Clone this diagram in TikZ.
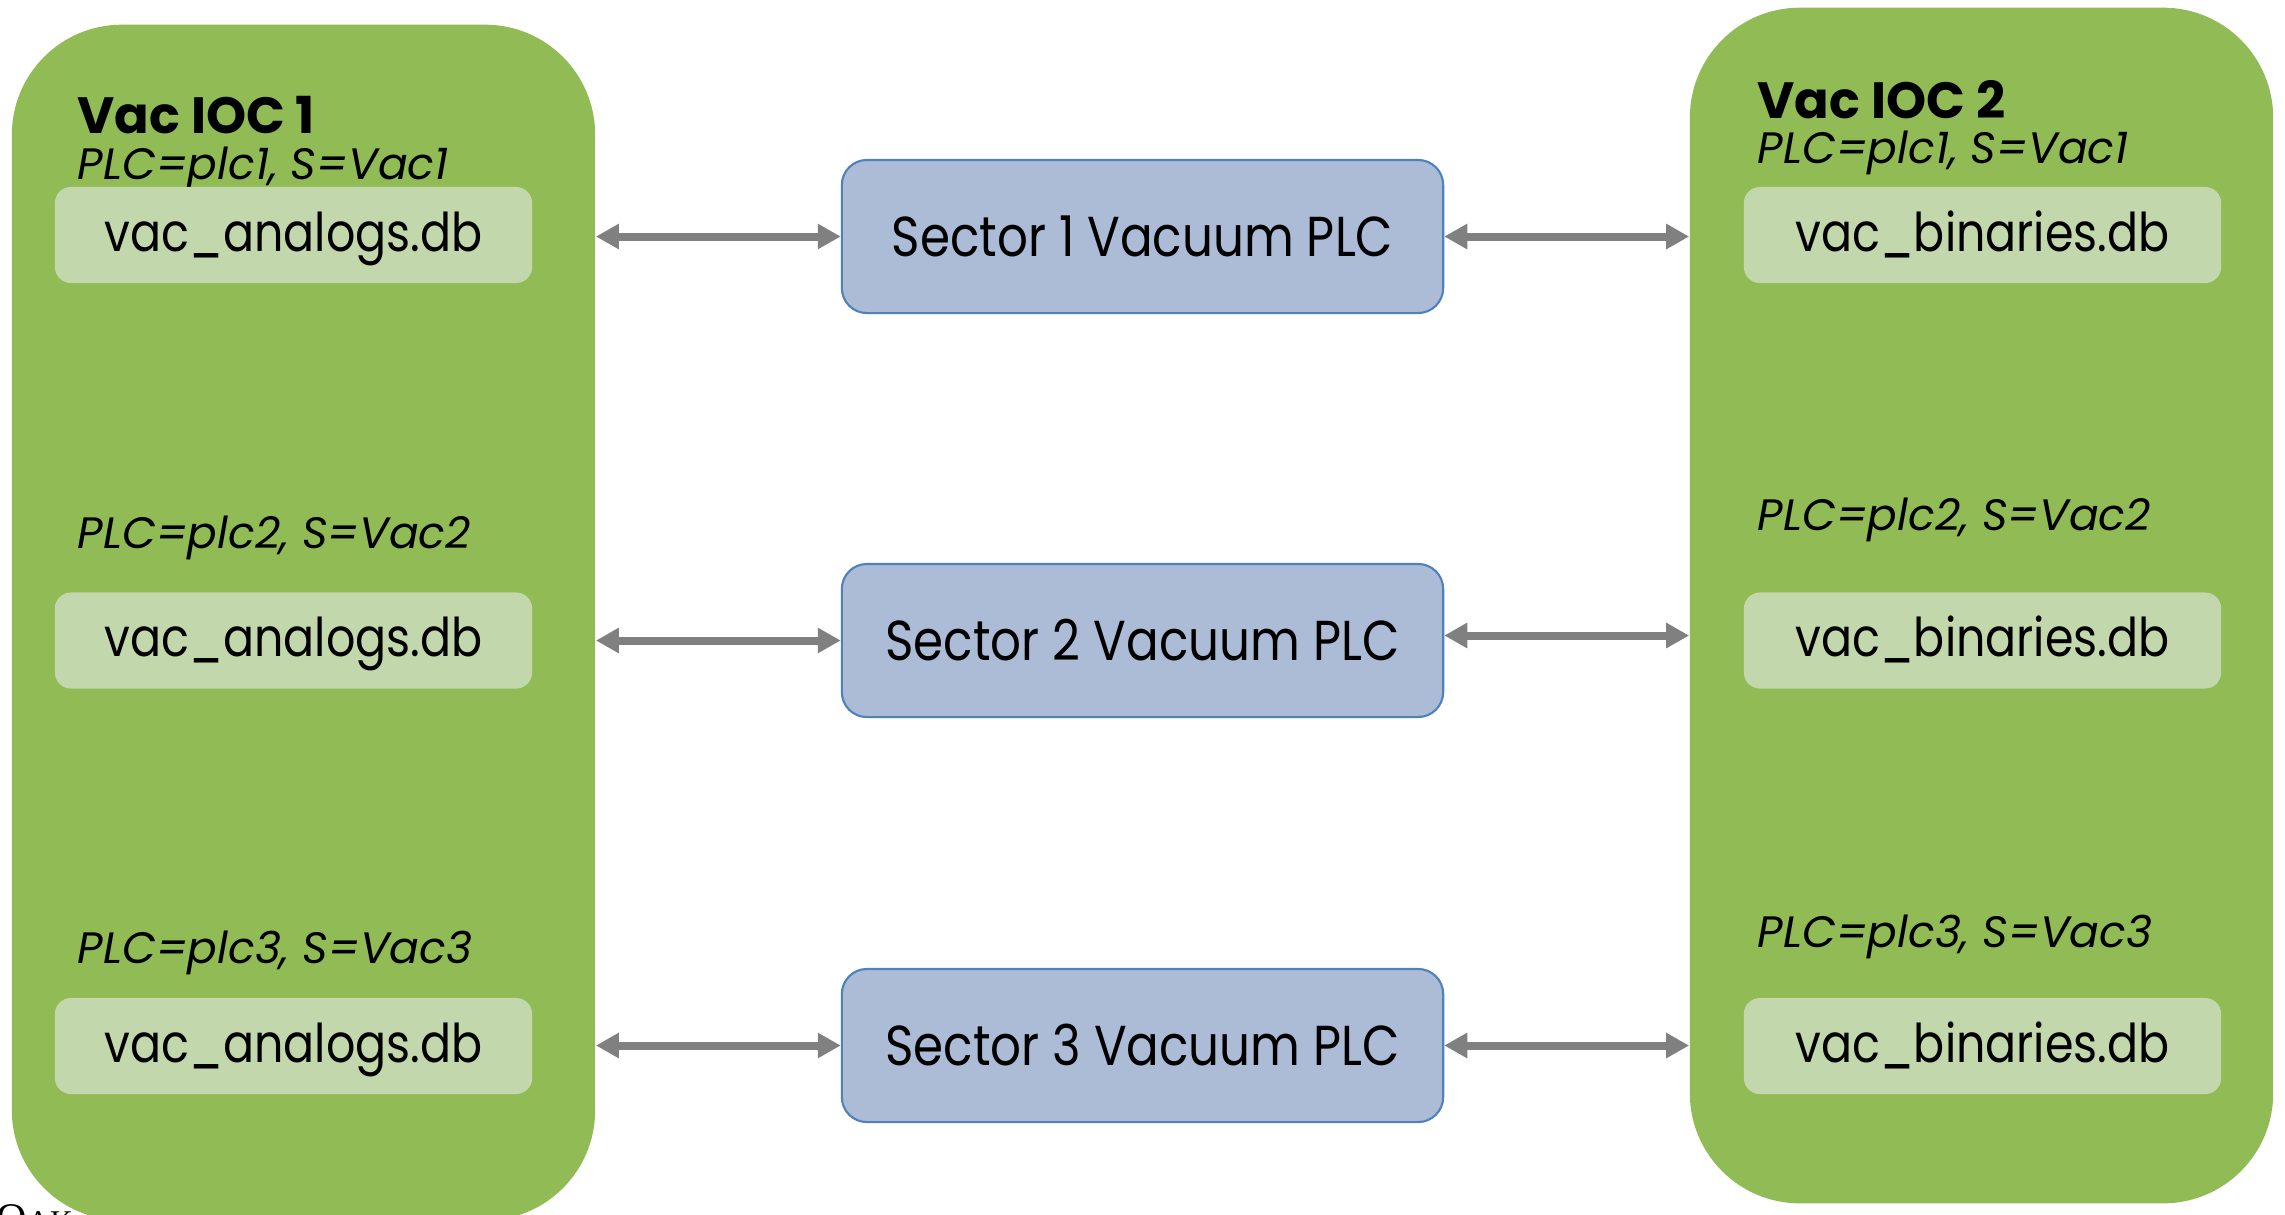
\documentclass[tikz,border=0pt]{standalone}
\usepackage{fontspec}
\setmainfont{Poppins}
\newfontfamily\boxfont[FakeStretch=0.86]{Poppins}
\newfontfamily\footerfont{Liberation Serif}
\usetikzlibrary{arrows.meta}

\definecolor{iocgreen}{RGB}{145,187,85}
\definecolor{dbgreen}{RGB}{194,216,172}
\definecolor{plcfill}{RGB}{172,187,214}
\definecolor{plcline}{RGB}{79,129,189}
\definecolor{linkgray}{RGB}{128,128,128}

\tikzset{
  iocbox/.style={rectangle, rounded corners=1.1cm, fill=iocgreen,
    minimum width=5.83cm, minimum height=11.95cm, inner sep=0pt},
  dbbox/.style={rectangle, rounded corners=0.16cm, fill=dbgreen,
    minimum width=4.77cm, minimum height=0.96cm, inner sep=0pt,
    text height=0.42cm, text depth=0.1cm,
    font=\boxfont\fontsize{15.2}{18}\selectfont},
  plcbox/.style={rectangle, rounded corners=0.25cm, fill=plcfill,
    draw=plcline, line width=0.6pt,
    minimum width=6.01cm, minimum height=1.53cm, inner sep=0pt,
    text height=0.5cm, text depth=0.1cm,
    font=\boxfont\fontsize{16}{18}\selectfont},
  title/.style={anchor=base west, inner sep=0pt, font=\bfseries\fontsize{14.5}{17}\selectfont},
  param/.style={anchor=base west, inner sep=0pt, font=\itshape\fontsize{12.5}{15}\selectfont},
  link/.style={draw=linkgray, line width=0.08cm,
    {Triangle[length=0.23cm,width=0.24cm]}-{Triangle[length=0.23cm,width=0.24cm]}}
}

\begin{document}
\begin{tikzpicture}[x=0.01cm, y=-0.01cm]
  \useasboundingbox (0,0) rectangle (2285,1214);

  % IOC containers
  \node[iocbox] (ioc1) at (303.5,622.5) {};
  \node[iocbox] (ioc2) at (1981.5,605.5) {};

  % IOC 1 contents
  \node[title] (t1) at (77,133) {Vac IOC 1};
  \node[param] (p11) at (77,179) {PLC=plc1, S=Vac1};
  \node[param] (p12) at (77,548) {PLC=plc2, S=Vac2};
  \node[param] (p13) at (77,963) {PLC=plc3, S=Vac3};
  \node[dbbox] (a1) at (293.5,235) {vac\_analogs.db};
  \node[dbbox] (a2) at (293.5,640.5) {vac\_analogs.db};
  \node[dbbox] (a3) at (293.5,1046) {vac\_analogs.db};

  % IOC 2 contents
  \node[title] (t2) at (1757,118) {Vac IOC 2};
  \node[param] (p21) at (1757,163) {PLC=plc1, S=Vac1};
  \node[param] (p22) at (1757,530) {PLC=plc2, S=Vac2};
  \node[param] (p23) at (1757,947) {PLC=plc3, S=Vac3};
  \node[dbbox] (b1) at (1982.5,235) {vac\_binaries.db};
  \node[dbbox] (b2) at (1982.5,640.5) {vac\_binaries.db};
  \node[dbbox] (b3) at (1982.5,1046) {vac\_binaries.db};

  % Sector PLCs
  \node[plcbox] (s1) at (1142.5,236.5) {Sector 1 Vacuum PLC};
  \node[plcbox] (s2) at (1142.5,640.5) {Sector 2 Vacuum PLC};
  \node[plcbox] (s3) at (1142.5,1045.5) {Sector 3 Vacuum PLC};

  % Links between IOCs and PLCs
  \draw[link] (ioc1.east |- s1.west) -- (s1.west);
  \draw[link] (s1.east) -- (ioc2.west |- s1.east);
  \draw[link] (ioc1.east |- s2.west) -- (s2.west);
  \draw[link] ([yshift=0.05cm]s2.east) -- ([yshift=0.05cm]ioc2.west |- s2.east);
  \draw[link] (ioc1.east |- s3.west) -- (s3.west);
  \draw[link] (s3.east) -- (ioc2.west |- s3.east);

  % Footer text
  \node[anchor=north west, inner sep=0pt, font=\footerfont] (foot) at (-4,1204)
    {\fontsize{12}{13}\selectfont O\fontsize{9}{10}\selectfont AK};
\end{tikzpicture}
\end{document}
